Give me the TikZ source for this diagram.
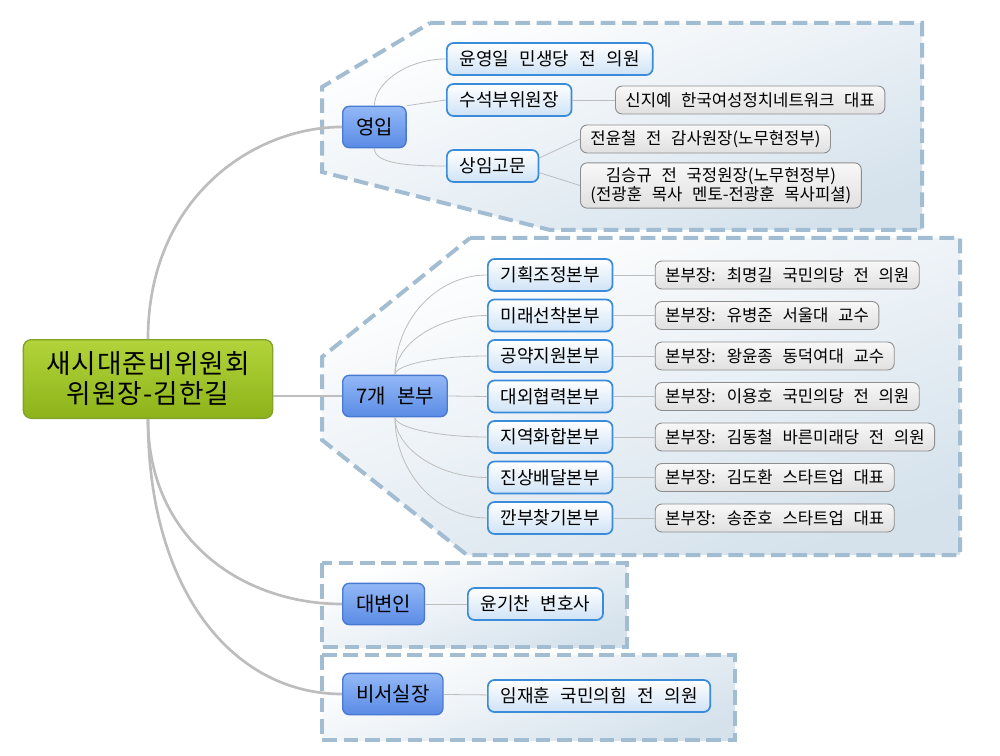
\documentclass[tikz,border=0pt]{standalone}
\usepackage{fontspec}
\setmainfont[WordSpace=2.6]{Noto Sans CJK KR}
\newfontfamily\rootfont[LetterSpace=4]{Noto Sans CJK KR}
\usepackage{xcolor}
\usepackage{tikz}
\usetikzlibrary{shapes,calc,positioning}
\definecolor{rootTop}{HTML}{B2D43A}
\definecolor{rootBot}{HTML}{8DB31A}
\definecolor{rootLine}{HTML}{82A229}
\definecolor{topTop}{HTML}{93B8F6}
\definecolor{topBot}{HTML}{5A8BE5}
\definecolor{topLine}{HTML}{4A79D2}
\definecolor{subLine}{HTML}{3A8CDB}
\definecolor{subBot}{HTML}{CFE3F6}
\definecolor{leafLine}{HTML}{8E8E8E}
\definecolor{leafTop}{HTML}{F8F8F8}
\definecolor{leafBot}{HTML}{E0E0E0}
\definecolor{grpLine}{HTML}{A2BCD2}
\definecolor{grpBot}{HTML}{D5E2EC}
\definecolor{linkGray}{HTML}{BDBDBD}
\tikzset{
  rootbox/.style={draw=rootLine, line width=1pt, rounded corners=6pt, top color=rootTop, bottom color=rootBot, align=center, font=\rootfont\fontsize{20}{22.5}\selectfont, minimum width=187pt, minimum height=59pt},
  topicbox/.style={draw=topLine, line width=1pt, rounded corners=5pt, top color=topTop, bottom color=topBot, font=\fontsize{15}{17}\selectfont, inner xsep=10pt, minimum height=31pt, anchor=west},
  subbox/.style={draw=subLine, line width=1.3pt, rounded corners=5pt, top color=white, bottom color=subBot, font=\fontsize{13.5}{15}\selectfont, inner xsep=9.5pt, minimum height=24pt, anchor=west},
  leafbox/.style={draw=leafLine, line width=0.7pt, rounded corners=5pt, top color=leafTop, bottom color=leafBot, font=\fontsize{12.5}{14.5}\selectfont, inner xsep=7.5pt, minimum height=21pt, anchor=west, align=center},
  grp/.style={draw=grpLine, line width=3pt, dash pattern=on 11pt off 5pt, top color=white, bottom color=grpBot, shading angle=20},
  mainlink/.style={draw=linkGray, line width=2pt},
  sublink/.style={draw=linkGray, line width=0.6pt}
}

\begin{document}
\begin{tikzpicture}[x=0.75pt,y=-0.75pt]
    \useasboundingbox (0,0) rectangle (1000,756);
    \draw[grp] (430,23) -- (922,23) -- (922,230) -- (550,230) -- (322,172) -- (322,87) -- cycle;
    \draw[grp] (470,238) -- (960,238) -- (960,555) -- (467,555) -- (322,440) -- (322,357) -- cycle;
    \draw[grp] (322,563) rectangle (627,647);
    \draw[grp] (322,655) rectangle (735,740);

    \node (root) [rootbox] at (148,379) {새시대준비위원회\\위원장-김한길};
    \node (g1) [topicbox] at (342,127) {영입};
    \node (g2) [topicbox] at (342,396) {7개 본부};
    \node (g3) [topicbox] at (342,604) {대변인};
    \node (g4) [topicbox] at (342,694) {비서실장};

    \node (a1) [subbox] at (446,59) {윤영일 민생당 전 의원};
    \node (a2) [subbox] at (446,100) {수석부위원장};
    \node (a3) [subbox] at (446,166) {상임고문};
    \node (a2x) [leafbox] at (615,100) {신지예 한국여성정치네트워크 대표};
    \node (a3x) [leafbox] at (580,139) {전윤철 전 감사원장(노무현정부)};
    \node (a3y) [leafbox] at (580,185.5) 
    {김승규 전 국정원장(노무현정부)\\(전광훈 목사 멘토-전광훈 목사피셜)};

    \node (b1) [subbox] at (487,275) {기획조정본부};
    \node (b2) [subbox] at (487,315.5) {미래선착본부};
    \node (b3) [subbox] at (487,356) {공약지원본부};
    \node (b4) [subbox] at (487,396.5) {대외협력본부};
    \node (b5) [subbox] at (487,437) {지역화합본부};
    \node (b6) [subbox] at (487,477.5) {진상배달본부};
    \node (b7) [subbox] at (487,518) {깐부찾기본부};
    \node (b1x) [leafbox,right=31pt of b1] {본부장: 최명길 국민의당 전 의원};
    \node (b2x) [leafbox,right=31pt of b2] {본부장: 유병준 서울대 교수};
    \node (b3x) [leafbox,right=31pt of b3] {본부장: 왕윤종 동덕여대 교수};
    \node (b4x) [leafbox,right=31pt of b4] {본부장: 이용호 국민의당 전 의원};
    \node (b5x) [leafbox,right=31pt of b5] {본부장: 김동철 바른미래당 전 의원};
    \node (b6x) [leafbox,right=31pt of b6] {본부장: 김도환 스타트업 대표};
    \node (b7x) [leafbox,right=31pt of b7] {본부장: 송준호 스타트업 대표};

    \node (c1) [subbox] at (467,604) {윤기찬 변호사};
    \node (d1) [subbox] at (487,696) {임재훈 국민의힘 전 의원};

    \draw[mainlink] (root.north) .. controls +(0,-140) and +(-90,0) .. (g1.west);
    \draw[mainlink] (root.east |- g2.west) -- (g2.west);
    \draw[mainlink] (root.south) .. controls +(0,120) and +(-100,0) .. (g3.west);
    \draw[mainlink] (root.south) .. controls +(0,170) and +(-110,0) .. (g4.west);

    \draw[sublink] (g1.north) .. controls +(0,-22) and +(-40,0) .. (a1.west);
    \draw[sublink] (g1.north east) -- (a2.west);
    \draw[sublink] (g1.south) .. controls +(0,15) and +(-40,0) .. (a3.west);
    \path (a2) edge[sublink] (a2x);
    \draw[sublink] ([yshift=6pt]a3.east) -- (a3x.west);
    \draw[sublink] ([yshift=-5pt]a3.east) -- (a3y.west);

    \draw[sublink] (g2.north) .. controls +(0,-55) and +(-50,0) .. (b1.west);
    \draw[sublink] (g2.north) .. controls +(0,-30) and +(-50,0) .. (b2.west);
    \draw[sublink] (g2.north) .. controls +(0,-10) and +(-50,0) .. (b3.west);
    \draw[sublink] (g2.east) -- (b4.west);
    \draw[sublink] (g2.south) .. controls +(0,10) and +(-50,0) .. (b5.west);
    \draw[sublink] (g2.south) .. controls +(0,30) and +(-50,0) .. (b6.west);
    \draw[sublink] (g2.south) .. controls +(0,55) and +(-50,0) .. (b7.west);
    \path (b1) edge[sublink] (b1x);
    \path (b2) edge[sublink] (b2x);
    \path (b3) edge[sublink] (b3x);
    \path (b4) edge[sublink] (b4x);
    \path (b5) edge[sublink] (b5x);
    \path (b6) edge[sublink] (b6x);
    \path (b7) edge[sublink] (b7x);

    \path (g3) edge[sublink] (c1);
    \path (g4) edge[sublink] (d1);
\end{tikzpicture}
\end{document}
